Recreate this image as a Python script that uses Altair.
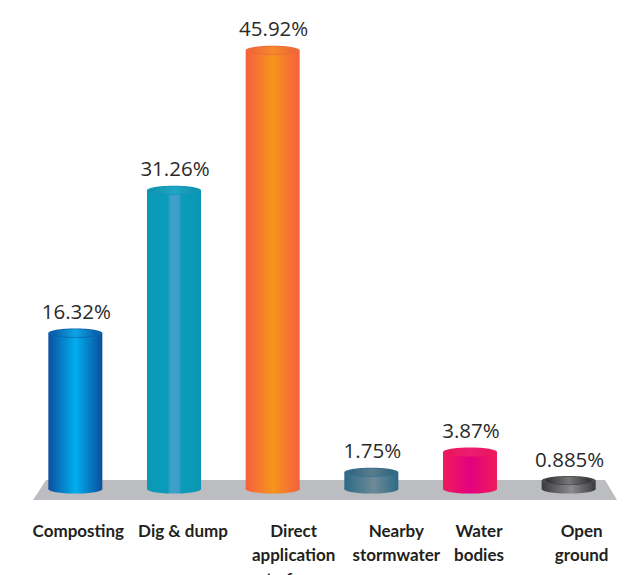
import altair as alt
import pandas as pd

categories = ["Composting", "Dig & dump", "Direct application to farm",
              "Nearby stormwater", "Water bodies", "Open ground"]
shares = [16.32, 31.26, 45.92, 1.75, 3.87, 0.885]
share_labels = ["16.32%", "31.26%", "45.92%", "1.75%", "3.87%", "0.885%"]
axis_lines = ["Composting", "Dig & dump", "Direct\napplication\nto farm",
              "Nearby\nstormwater", "Water\nbodies", "Open\nground"]

# Horizontal shading of each cylinder: (offset, colour) from left edge to right edge.
body_stops = [
    [(0, "#0d4f9e"), (0.5, "#00aeef"), (1, "#0a4f9c")],
    [(0, "#0a98b4"), (0.38, "#0a9cbc"), (0.44, "#3e9fc9"), (0.58, "#3e9fc9"), (0.64, "#0a9cbc"), (1, "#0a96b2")],
    [(0, "#f4603e"), (0.5, "#f7941d"), (1, "#f4603e")],
    [(0, "#2c6a86"), (0.55, "#6d8a97"), (1, "#2c6a86")],
    [(0, "#ee1c5c"), (0.5, "#e4007f"), (1, "#ee1c5c")],
    [(0, "#3a3a3c"), (0.55, "#8c8c8e"), (1, "#3a3a3c")],
]
rim_colors = ["#0b63ad", "#1095b4", "#f26a3a", "#336f8a", "#ee1a62", "#4a4a4c"]
inner_stops = [
    [(0, "#0a5aa8"), (0.5, "#0aa5e6"), (1, "#0a5aa8")],
    [(0, "#0f92ae"), (0.5, "#22a6c4"), (1, "#0f92ae")],
    [(0, "#f0643a"), (0.5, "#f58a2a"), (1, "#f0643a")],
    [(0, "#2f6580"), (0.5, "#5a7d8d"), (1, "#2f6580")],
    [(0, "#e8175c"), (0.5, "#ee1c72"), (1, "#e8175c")],
    [(0, "#2e2e30"), (0.5, "#77777a"), (1, "#2e2e30")],
]
# Sideways nudge of each category caption relative to its cylinder.
caption_nudge = [3, 9, 21, 25, 9, 13]

PLOT_W, PLOT_H = 592, 489
CYL_W = 54
ELLIPSE = "M-1,0 A1,0.17 0 1,1 1,0 A1,0.17 0 1,1 -1,0 Z"
FLOOR = "M-0.955,-0.0342 L0.959,-0.0342 L1,0.0342 L-1,0.0342 Z"

def gradient(stops):
    return alt.LinearGradient(
        gradient="linear", x1=0, x2=1, y1=0, y2=0,
        stops=[alt.GradientStop(offset=o, color=c) for o, c in stops],
    )

table = pd.DataFrame({"category": categories, "share": shares,
                      "label": share_labels, "caption": axis_lines})

y_scale = alt.Scale(domain=[0, 51.2], nice=False, zero=True)
x = alt.X("category:N", sort=categories, axis=None,
          scale=alt.Scale(paddingInner=0.452, paddingOuter=0.226))
y = alt.Y("share:Q", axis=None, scale=y_scale)

floor = alt.Chart(table.head(1)).mark_point(
    shape=FLOOR, filled=True, fill="#bcbdc0", opacity=1, strokeWidth=0, size=584 ** 2
).encode(x=alt.value(299), y=alt.value(490))

layers = [floor]
for i, category in enumerate(categories):
    row = table[table["category"] == category]
    base = alt.Chart(row)
    zero_row = base.transform_calculate(baseline="0")
    layers.append(zero_row.mark_point(
        shape=ELLIPSE, filled=True, fill=gradient(body_stops[i]), opacity=1,
        strokeWidth=0, size=CYL_W ** 2
    ).encode(x=x, y=alt.Y("baseline:Q", axis=None, scale=y_scale)))
    layers.append(base.mark_bar(fill=gradient(body_stops[i]), size=CYL_W, strokeWidth=0).encode(
        x=x, y=y, y2=alt.datum(0)))
    layers.append(base.mark_point(
        shape=ELLIPSE, filled=True, fill=rim_colors[i], opacity=1,
        strokeWidth=0, size=CYL_W ** 2
    ).encode(x=x, y=y))
    layers.append(base.mark_point(
        shape=ELLIPSE, filled=True, fill=gradient(inner_stops[i]), opacity=1,
        strokeWidth=0, size=(CYL_W - 8) ** 2
    ).encode(x=x, y=y))
    layers.append(base.mark_text(
        font="Open Sans", fontSize=20.5, color="#2b2a29", baseline="alphabetic", dy=-14, dx=1
    ).encode(x=x, y=y, text="label:N"))
    layers.append(base.mark_text(
        font="Lato", fontWeight="bold", fontSize=17, color="#231f20",
        baseline="alphabetic", lineBreak="\n", lineHeight=24, dx=caption_nudge[i]
    ).encode(x=x, y=alt.value(537), text="caption:N"))

chart = alt.layer(*layers).properties(
    width=PLOT_W, height=PLOT_H,
    padding={"left": 26, "top": 0, "right": 20, "bottom": 86},
    autosize=alt.AutoSizeParams(type="none"),
    background="white",
).configure_view(stroke=None)

chart.save("out.html", embed_options={"renderer": "svg", "actions": False})
